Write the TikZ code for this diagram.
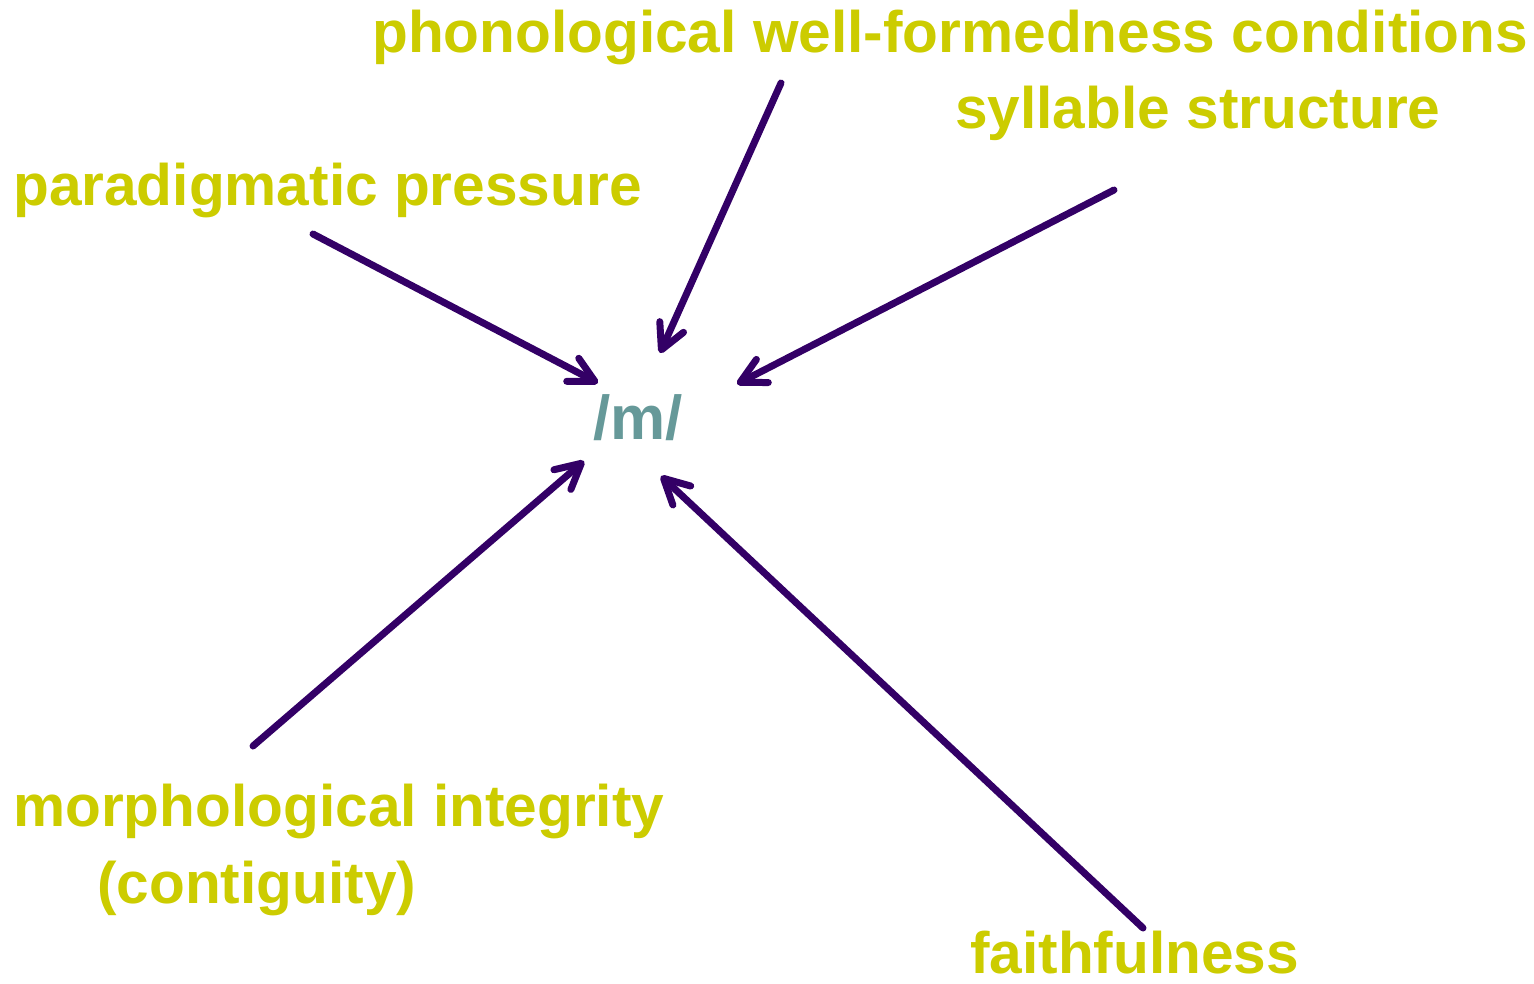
\documentclass[tikz,border=0pt]{standalone}
\usepackage{fontspec}
\setmainfont{Liberation Sans}
\usepackage{xcolor}
\definecolor{colorFactor}{HTML}{CCCC00}
\definecolor{colorPhoneme}{HTML}{669999}
\definecolor{colorForce}{HTML}{330066}
\usetikzlibrary{arrows.meta}
\tikzset{
  factor/.style={anchor=base west, inner sep=0pt, text=colorFactor, font=\fontsize{58.6}{70}\selectfont\bfseries},
  phoneme/.style={anchor=base west, inner sep=0pt, text=colorPhoneme, font=\fontsize{62}{74}\selectfont\bfseries},
  force/.style={colorForce, line width=7pt, line cap=round,
    -{Straight Barb[length=25pt, width=26pt, round]}}
}

\begin{document}
\begin{tikzpicture}[x=1pt, y=-1pt]
\useasboundingbox (0,0) rectangle (1534,983);
% labels
\node[phoneme] (m) at (593,439) {/m/};
\node[factor] (phon) at (372,52) {phonological well-formedness conditions};
\node[factor] (syl) at (955,128) {syllable structure};
\node[factor] (par) at (13,205) {paradigmatic pressure};
\node[factor] (mor) at (13,826) {morphological integrity};
\node[factor] (con) at (97,903) {(contiguity)};
\node[factor] (fai) at (970,973) {faithfulness};
% arrow ends
\coordinate (phon-tail) at (781,83);
\coordinate (phon-tip) at (660,353);
\coordinate (syl-tail) at (1114,190);
\coordinate (syl-tip) at (737,384);
\coordinate (par-tail) at (313,234);
\coordinate (par-tip) at (598,383);
\coordinate (mor-tail) at (253,746);
\coordinate (mor-tip) at (584,461);
\coordinate (fai-tail) at (1143,928);
\coordinate (fai-tip) at (661,476);
\draw[force] (phon-tail) -- (phon-tip);
\draw[force] (syl-tail) -- (syl-tip);
\draw[force] (par-tail) -- (par-tip);
\draw[force] (mor-tail) -- (mor-tip);
\draw[force] (fai-tail) -- (fai-tip);
\end{tikzpicture}
\end{document}
